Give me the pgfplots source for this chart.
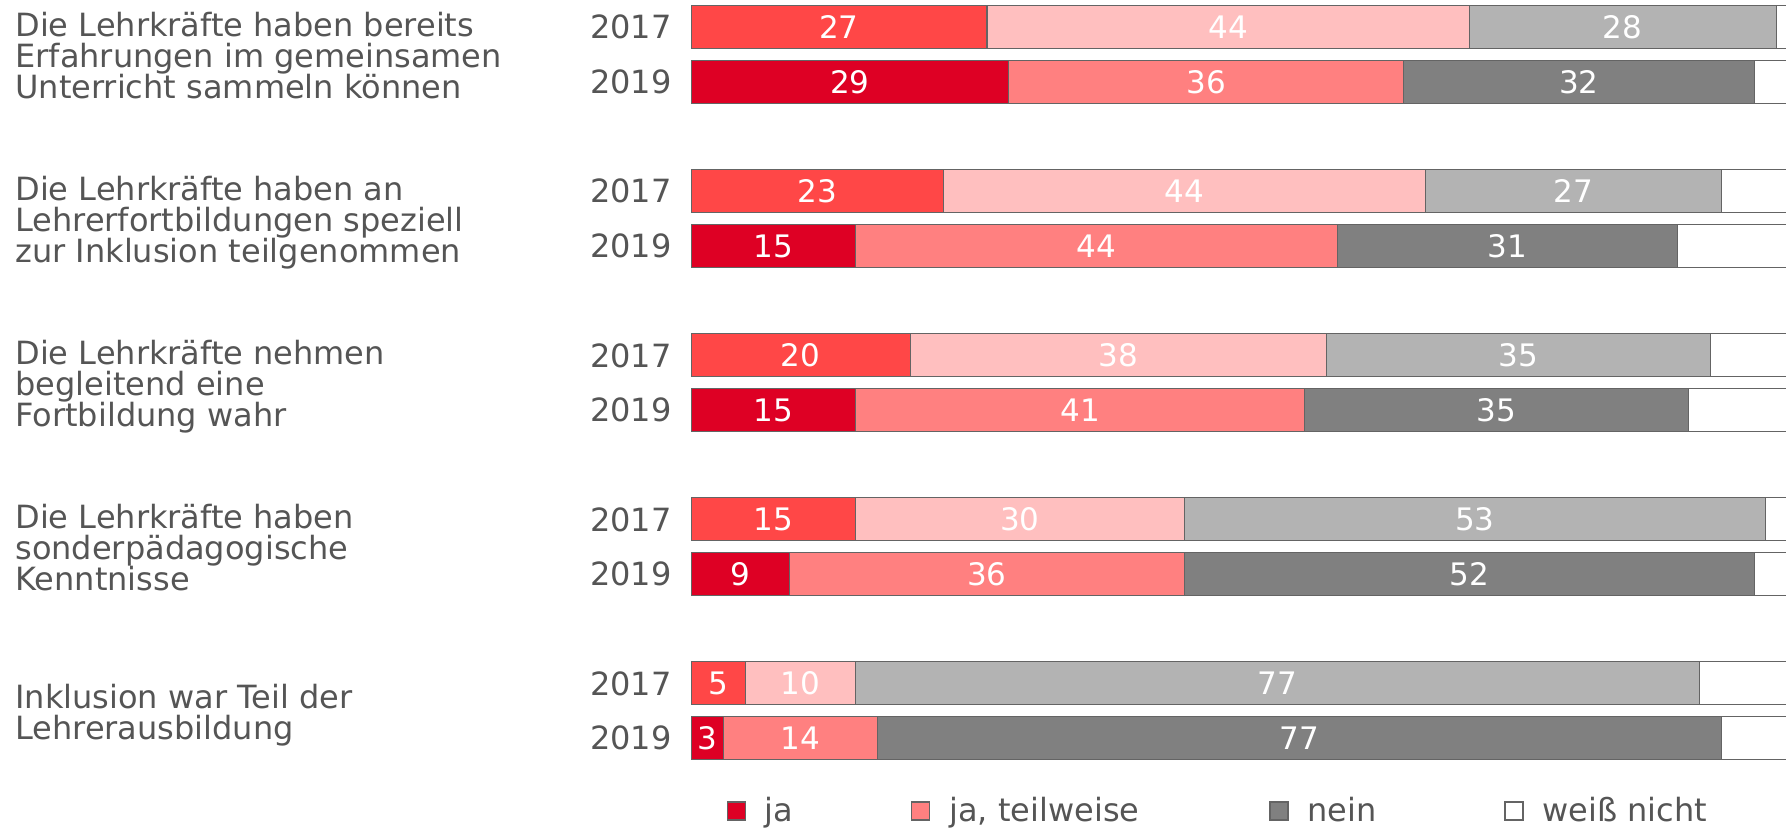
\documentclass[border=0pt]{standalone}
\usepackage{fontspec}
\setmainfont{DejaVu Sans}
\usepackage{pgfplots}
\usepackage{pgfplotstable}
\pgfplotsset{compat=1.18}
\definecolor{txt}{HTML}{555555}
\definecolor{jaA}{HTML}{FF4747}
\definecolor{jaB}{HTML}{DE0024}
\definecolor{twA}{HTML}{FFBFBF}
\definecolor{twB}{HTML}{FF8080}
\definecolor{neA}{HTML}{B3B3B3}
\definecolor{neB}{HTML}{808080}
\definecolor{edge}{HTML}{646464}

% 2017 bars (pos = vertical position of the bar)
\pgfplotstableread{
pos ja tw ne wn
0   27 44 28 1
-3  23 44 27 6
-6  20 38 35 7
-9  15 30 53 2
-12 5  10 77 8
}\tA
% 2019 bars
\pgfplotstableread{
pos ja tw ne wn
-1  29 36 32 3
-4  15 44 31 10
-7  15 41 35 9
-10 9  36 52 3
-13 3  14 77 6
}\tB

\pgfplotsset{
  base/.style={
    anchor=north west, at={(345.5pt,0pt)},
    x=5.4805pt, y=27.335pt,
    xmin=0, xmax=99.9, ymin=-13.5, ymax=0.5,
    enlargelimits=false,
    xbar stacked, bar width=21.5pt,
    axis line style={draw=none},
    xtick=\empty,
    major tick length=0pt,
    tick style={draw=none},
    yticklabel style={font=\fontsize{16}{19}\selectfont, text=txt, inner sep=0pt, xshift=-9.5pt},
    /pgf/number format/assume math mode=true,
    point meta=explicit,
    every node near coord/.append style={font=\fontsize{15.5}{18}\selectfont, text=white, anchor=center, inner sep=0pt},
  },
  seg/.style={draw=edge, line width=0.6pt, fill=#1},
}

\begin{document}
\begin{tikzpicture}
\useasboundingbox (0,0) rectangle (893pt,-414.5pt);

\begin{axis}[base, ytick={0,-3,-6,-9,-12}, yticklabels={2017,2017,2017,2017,2017}]
\addplot[seg=jaA, nodes near coords] table[x=ja, y=pos, meta=ja] {\tA};
\addplot[seg=twA, nodes near coords] table[x=tw, y=pos, meta=tw] {\tA};
\addplot[seg=neA, nodes near coords] table[x=ne, y=pos, meta=ne] {\tA};
\addplot[seg=white] table[x=wn, y=pos, meta=wn] {\tA};
\end{axis}

\begin{axis}[base, ytick={-1,-4,-7,-10,-13}, yticklabels={2019,2019,2019,2019,2019},
  legend image code/.code={\draw[#1, draw=edge, line width=0.6pt] (0pt,-4.5pt) rectangle (9pt,4.5pt);},
  legend columns=-1,
  legend style={draw=none, fill=none, inner sep=0pt, outer sep=0pt,
    at={(0.0326,-0.0596)}, anchor=west,
    nodes={inner sep=0pt, text=txt, font=\fontsize{16}{19}\selectfont},
    /tikz/every odd column/.append style={column sep=9.5pt},
    /tikz/every even column/.append style={column sep=0pt}},
]
\addplot[seg=jaB, nodes near coords, forget plot] table[x=ja, y=pos, meta=ja] {\tB};
\addplot[seg=twB, nodes near coords, forget plot] table[x=tw, y=pos, meta=tw] {\tB};
\addplot[seg=neB, nodes near coords, forget plot] table[x=ne, y=pos, meta=ne] {\tB};
\addplot[seg=white, forget plot] table[x=wn, y=pos, meta=wn] {\tB};
\addlegendimage{fill=jaB}
\addlegendentry{\makebox[73.15pt][l]{ja}}
\addlegendimage{fill=twB}
\addlegendentry{\makebox[160pt][l]{ja, teilweise}}
\addlegendimage{fill=neB}
\addlegendentry{\makebox[98.4pt][l]{nein}}
\addlegendimage{fill=white}
\addlegendentry{weiß nicht}
\end{axis}

\begin{scope}[every node/.style={anchor=base west, inner sep=0pt, text=txt, font=\fontsize{16}{19}\selectfont}]
\node at (7.5pt,-18.4pt) {Die Lehrkräfte haben bereits};
\node at (7.5pt,-33.8pt) {Erfahrungen im gemeinsamen};
\node at (7.5pt,-49.2pt) {Unterricht sammeln können};
\node at (7.5pt,-100.4pt) {Die Lehrkräfte haben an};
\node at (7.5pt,-115.8pt) {Lehrerfortbildungen speziell};
\node at (7.5pt,-131.2pt) {zur Inklusion teilgenommen};
\node at (7.5pt,-182.4pt) {Die Lehrkräfte nehmen};
\node at (7.5pt,-197.8pt) {begleitend eine};
\node at (7.5pt,-213.2pt) {Fortbildung wahr};
\node at (7.5pt,-264.4pt) {Die Lehrkräfte haben};
\node at (7.5pt,-279.8pt) {sonderpädagogische};
\node at (7.5pt,-295.2pt) {Kenntnisse};
\node at (7.5pt,-354.1pt) {Inklusion war Teil der};
\node at (7.5pt,-369.5pt) {Lehrerausbildung};
\end{scope}
\end{tikzpicture}
\end{document}
